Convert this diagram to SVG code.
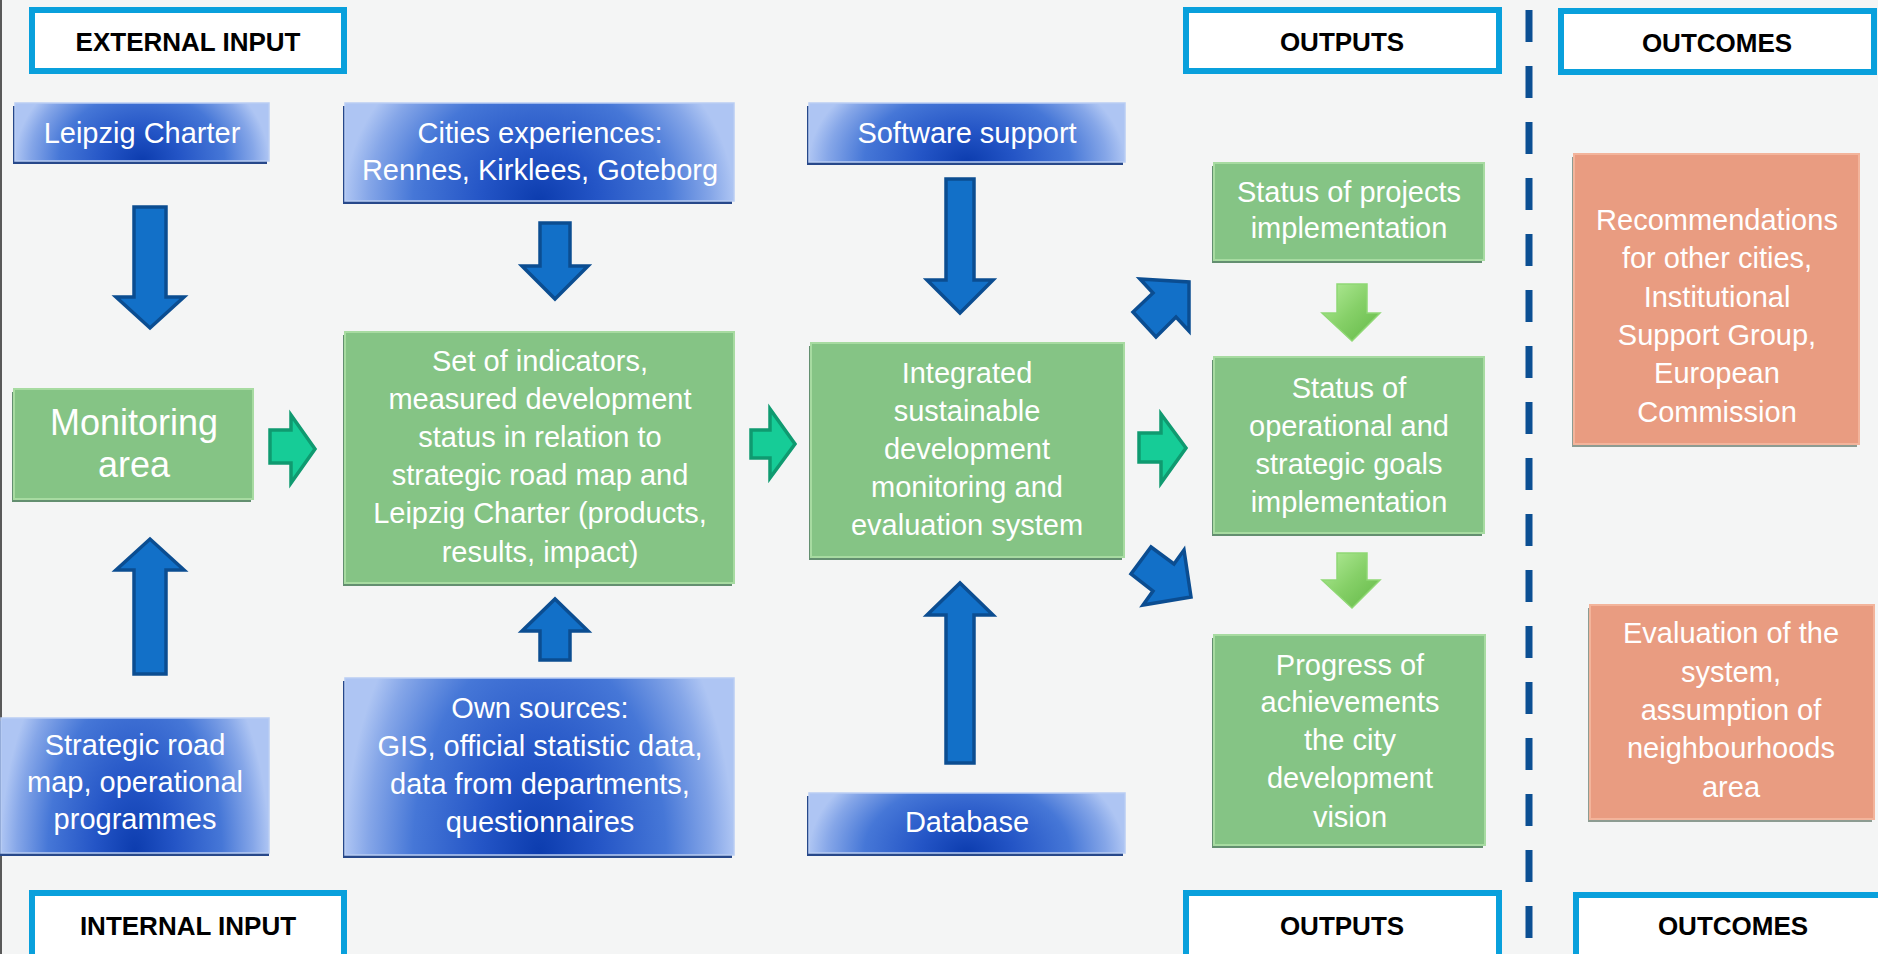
<svg xmlns="http://www.w3.org/2000/svg" width="1878" height="954" viewBox="0 0 1878 954">
<style>
.t{font-family:"Liberation Sans",Arial,sans-serif;fill:#fff;font-size:29px;text-anchor:middle}
.big{font-size:36px}
.h{font-family:"Liberation Sans",Arial,sans-serif;fill:#000;font-size:26px;font-weight:bold;text-anchor:middle}
.hb{fill:#fff;stroke:#09a0dc;stroke-width:6}
.bb{fill:url(#blueG);stroke:#b9cdf3;stroke-width:1.5}
.bs{fill:#27488a}
.gb{fill:#85c485;stroke:#a7dba1;stroke-width:2}
.gs{fill:#638f70}
.ob{fill:#e99c81;stroke:#f3b49b;stroke-width:2}
.os{fill:#8d9c92}
.ba{fill:#1270c8;stroke:#0b4d91;stroke-width:3.5}
.ta{fill:#16cc97;stroke:#0f9a70;stroke-width:3.5}
.la{fill:url(#lg);stroke:#8fd874;stroke-width:1.5}
</style>
<defs>
<radialGradient id="blueG" cx="0.5" cy="1" r="0.5" gradientTransform="translate(0.5,1) scale(1,3.6) translate(-0.5,-1)">
<stop offset="0" stop-color="#0c3cae"/>
<stop offset="0.3" stop-color="#2455c6"/>
<stop offset="0.65" stop-color="#4677d7"/>
<stop offset="0.88" stop-color="#85a6e8"/>
<stop offset="1" stop-color="#aec5f3"/>
</radialGradient>
<linearGradient id="lg" x1="0" y1="0" x2="1" y2="1">
<stop offset="0" stop-color="#b4ec9a"/>
<stop offset="0.5" stop-color="#86d068"/>
<stop offset="1" stop-color="#62b846"/>
</linearGradient>
</defs>
<rect x="0" y="0" width="1878" height="954" fill="#f4f5f5"/>
<rect x="0" y="0" width="2" height="954" fill="#595959"/>
<line x1="1529" y1="10" x2="1529" y2="954" stroke="#0b4f93" stroke-width="7" stroke-dasharray="32 24"/>

<g id="external-input"><rect class="hb" x="32" y="10" width="312" height="61"/><text class="h" x="188" y="51">EXTERNAL INPUT</text></g>
<g id="internal-input"><rect class="hb" x="32" y="893" width="312" height="70"/><text class="h" x="188" y="935">INTERNAL INPUT</text></g>
<g id="outputs-top"><rect class="hb" x="1186" y="10" width="313" height="61"/><text class="h" x="1342" y="51">OUTPUTS</text></g>
<g id="outputs-bottom"><rect class="hb" x="1186" y="893" width="313" height="70"/><text class="h" x="1342" y="935">OUTPUTS</text></g>
<g id="outcomes-top"><rect class="hb" x="1561" y="11" width="313" height="61"/><text class="h" x="1717" y="52">OUTCOMES</text></g>
<g id="outcomes-bottom"><rect class="hb" x="1576" y="895" width="313" height="70"/><text class="h" x="1733" y="935">OUTCOMES</text></g>

<g id="leipzig-charter"><rect class="bs" x="13" y="106" width="254" height="58"/><rect class="bb" x="15" y="103" width="254" height="58"/><text class="t" x="142" y="143">Leipzig Charter</text></g>
<g id="cities-experiences"><rect class="bs" x="343" y="106" width="389" height="98"/><rect class="bb" x="345" y="103" width="389" height="98"/><text class="t" x="540" y="143">Cities experiences:</text><text class="t" x="540" y="180">Rennes, Kirklees, Goteborg</text></g>
<g id="software-support"><rect class="bs" x="807" y="106" width="316" height="59"/><rect class="bb" x="809" y="103" width="316" height="59"/><text class="t" x="967" y="143">Software support</text></g>
<g id="strategic-road-map"><rect class="bs" x="0" y="721" width="269" height="135"/><rect class="bb" x="1" y="718" width="268" height="135"/><text class="t" x="135" y="755">Strategic road</text><text class="t" x="135" y="792">map, operational</text><text class="t" x="135" y="829">programmes</text></g>
<g id="own-sources"><rect class="bs" x="343" y="681" width="389" height="177"/><rect class="bb" x="345" y="678" width="389" height="177"/><text class="t" x="540" y="718">Own sources:</text><text class="t" x="540" y="756">GIS, official statistic data,</text><text class="t" x="540" y="794">data from departments,</text><text class="t" x="540" y="832">questionnaires</text></g>
<g id="database"><rect class="bs" x="807" y="796" width="316" height="60"/><rect class="bb" x="809" y="793" width="316" height="60"/><text class="t" x="967" y="832">Database</text></g>

<g id="monitoring-area"><rect class="gs" x="12" y="392" width="239" height="110"/><rect class="gb" x="14" y="389" width="239" height="110"/><text class="t big" x="134" y="435">Monitoring</text><text class="t big" x="134" y="477">area</text></g>
<g id="set-of-indicators"><rect class="gs" x="343" y="335" width="389" height="251"/><rect class="gb" x="345" y="332" width="389" height="251"/><text class="t" x="540" y="370.5">Set of indicators,</text><text class="t" x="540" y="408.7">measured development</text><text class="t" x="540" y="446.9">status in relation to</text><text class="t" x="540" y="485.1">strategic road map and</text><text class="t" x="540" y="523.3">Leipzig Charter (products,</text><text class="t" x="540" y="561.5">results, impact)</text></g>
<g id="integrated-system"><rect class="gs" x="809" y="346" width="313" height="214"/><rect class="gb" x="811" y="343" width="313" height="214"/><text class="t" x="967" y="383">Integrated</text><text class="t" x="967" y="421">sustainable</text><text class="t" x="967" y="459">development</text><text class="t" x="967" y="497">monitoring and</text><text class="t" x="967" y="535">evaluation system</text></g>
<g id="status-projects"><rect class="gs" x="1212" y="166" width="270" height="97"/><rect class="gb" x="1214" y="163" width="270" height="97"/><text class="t" x="1349" y="202">Status of projects</text><text class="t" x="1349" y="238">implementation</text></g>
<g id="status-goals"><rect class="gs" x="1212" y="360" width="270" height="176"/><rect class="gb" x="1214" y="357" width="270" height="176"/><text class="t" x="1349" y="398">Status of</text><text class="t" x="1349" y="436">operational and</text><text class="t" x="1349" y="474">strategic goals</text><text class="t" x="1349" y="512">implementation</text></g>
<g id="progress"><rect class="gs" x="1212" y="638" width="271" height="210"/><rect class="gb" x="1214" y="635" width="271" height="210"/><text class="t" x="1350" y="675">Progress of</text><text class="t" x="1350" y="712">achievements</text><text class="t" x="1350" y="750">the city</text><text class="t" x="1350" y="788">development</text><text class="t" x="1350" y="827">vision</text></g>

<g id="recommendations"><rect class="os" x="1572" y="157" width="285" height="290"/><rect class="ob" x="1574" y="154" width="285" height="290"/><text class="t" x="1717" y="230">Recommendations</text><text class="t" x="1717" y="268">for other cities,</text><text class="t" x="1717" y="307">Institutional</text><text class="t" x="1717" y="345">Support Group,</text><text class="t" x="1717" y="383">European</text><text class="t" x="1717" y="422">Commission</text></g>
<g id="evaluation"><rect class="os" x="1588" y="608" width="284" height="214"/><rect class="ob" x="1590" y="605" width="284" height="214"/><text class="t" x="1731" y="643">Evaluation of the</text><text class="t" x="1731" y="682">system,</text><text class="t" x="1731" y="720">assumption of</text><text class="t" x="1731" y="758">neighbourhoods</text><text class="t" x="1731" y="797">area</text></g>

<g id="connectors">
<polygon class="ba" points="134,207 166,207 166,297 184,297 150,328 116,297 134,297"/>
<polygon class="ba" points="134,674 166,674 166,570 184,570 150,539 116,570 134,570"/>
<polygon class="ba" points="540,223 570,223 570,266 588,266 555,299 522,266 540,266"/>
<polygon class="ba" points="540,660 570,660 570,631 588,631 555,599 522,631 540,631"/>
<polygon class="ba" points="946,179 974,179 974,280 993,280 960,313 927,280 946,280"/>
<polygon class="ba" points="946,763 974,763 974,615 993,615 960,583 927,615 946,615"/>
<polygon class="ba" points="1140,279 1189,282 1189,331 1176,317 1156,337 1133,312 1153,293"/>
<polygon class="ba" points="1151,547 1174,564 1184,550 1191,597 1143,605 1153,591 1131,574"/>
<polygon class="ta" points="270,430 291,430 291,415 315,449 291,483 291,463 270,463"/>
<polygon class="ta" points="751,430 770,430 770,409 795,444 770,478 770,458 751,458"/>
<polygon class="ta" points="1139,433 1161,433 1161,414 1186,448 1161,483 1161,462 1139,462"/>
<polygon class="la" points="1337,284 1367,284 1367,313 1380,313 1352,341 1322,313 1337,313"/>
<polygon class="la" points="1337,553 1367,553 1367,580 1380,580 1352,608 1322,580 1337,580"/>
</g>
</svg>
